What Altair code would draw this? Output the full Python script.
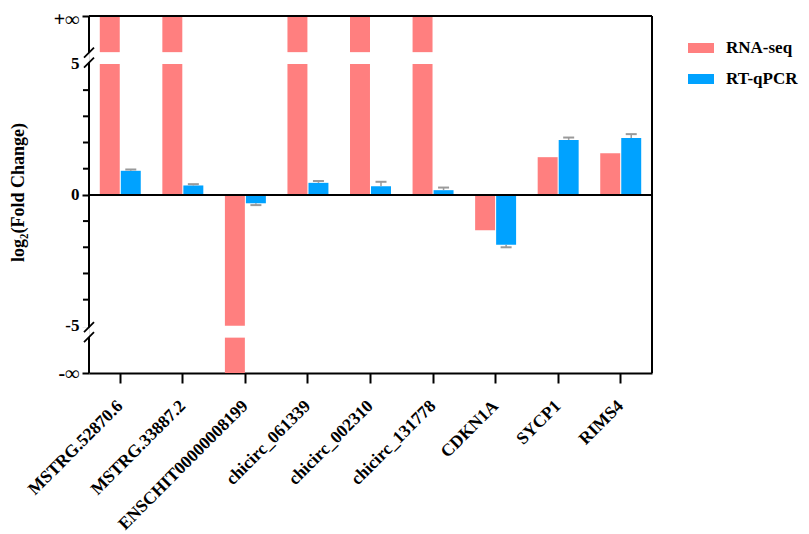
import math
import altair as alt
import pandas as pd

# ---------------- data ----------------
genes = ["MSTRG.52870.6", "MSTRG.33887.2", "ENSCHIT00000008199", "chicirc_061339",
         "chicirc_002310", "chicirc_131778", "CDKN1A", "SYCP1", "RIMS4"]
INF = math.inf
rna_seq = [INF, INF, -INF, INF, INF, INF, -1.35, 1.44, 1.59]
rt_qpcr = [0.92, 0.36, -0.32, 0.46, 0.33, 0.18, -1.90, 2.10, 2.17]
rt_qpcr_err = [0.05, 0.05, 0.07, 0.07, 0.17, 0.10, 0.10, 0.09, 0.15]
series_names = ["RNA-seq", "RT-qPCR"]
series_colors = ["#FF7F7F", "#00A2FF"]

# broken-axis layout (axis units)
Y_TOP = 6.83      # where +inf is drawn
Y_BOT = -6.80     # where -inf is drawn
BREAK_LO = 5.0    # bar segment ends
BREAK_HI = 5.45   # bar segment resumes
AX_GAP_LO = 5.05
AX_GAP_HI = 5.43
label_values = [Y_BOT, -5, 0, 5, Y_TOP]
minor_ticks = [-4, -3, -2, -1, 1, 2, 3, 4]

FONT = "Liberation Serif"
W, H = 563, 357

# ---------------- tables ----------------
bar_rows = []
for g, v in zip(genes, rna_seq):
    if v == INF:
        bar_rows += [(g, "RNA-seq", 0, BREAK_LO), (g, "RNA-seq", BREAK_HI, Y_TOP)]
    elif v == -INF:
        bar_rows += [(g, "RNA-seq", 0, -BREAK_LO), (g, "RNA-seq", -BREAK_HI, Y_BOT)]
    else:
        bar_rows.append((g, "RNA-seq", 0, v))
for g, v in zip(genes, rt_qpcr):
    bar_rows.append((g, "RT-qPCR", 0, v))
bars_df = pd.DataFrame(bar_rows, columns=["gene", "series", "y0", "y1"])

err_df = pd.DataFrame({
    "gene": genes,
    "series": "RT-qPCR",
    "y0": rt_qpcr,
    "y1": [v + (e if v >= 0 else -e) for v, e in zip(rt_qpcr, rt_qpcr_err)],
})

axis_seg_df = pd.DataFrame({"y0": [Y_BOT, -AX_GAP_LO, AX_GAP_HI],
                            "y1": [-AX_GAP_HI, AX_GAP_LO, Y_TOP]})
slash_centers = [-AX_GAP_HI, -AX_GAP_LO, AX_GAP_LO, AX_GAP_HI]
slash_df = pd.DataFrame({"y0": [c - 0.19 for c in slash_centers],
                         "y1": [c + 0.19 for c in slash_centers]})
hline_df = pd.DataFrame({"y1": [0, Y_TOP]})
mask_df = pd.DataFrame({"y1": [-5, 5]})
minor_df = pd.DataFrame({"y1": minor_ticks})

# ---------------- encodings ----------------
x_axis = alt.Axis(title=None, labelAngle=315, labelAlign="right", labelLimit=400,
                  labelBaseline="middle", labelFont=FONT, labelFontSize=17.5,
                  labelFontWeight="bold", labelColor="black", labelPadding=20,
                  tickSize=10, tickWidth=2, tickColor="black",
                  domainColor="black", domainWidth=2)
x_scale = alt.Scale(paddingInner=0.345, paddingOuter=0.1725)
xoff_scale = alt.Scale(paddingInner=0.05)
y_scale = alt.Scale(domain=[Y_BOT, Y_TOP], nice=False, zero=False)

label_expr = ("datum.value > 6 ? '+∞' : datum.value < -6 ? '-∞' : "
              "datum.value == 5 ? '5' : datum.value == -5 ? '-5' : "
              "datum.value == 0 ? '0' : ''")

y_axis = alt.Axis(values=label_values, labelExpr=label_expr, domain=False, grid=False,
                  tickColor="black", tickWidth=2, tickSize=7,
                  labelFont=FONT,
                  labelFontSize={"condition": {"test": "abs(datum.value) > 6", "value": 20},
                                 "value": 17},
                  labelOffset={"condition": {"test": "datum.value > 6", "value": 3},
                               "value": 0},
                  labelFontWeight="bold", labelColor="black", labelPadding=3,
                  title="log₂(Fold Change)", titleFont=FONT, titleFontSize=18,
                  titleFontWeight="bold", titleColor="black", titleAngle=270,
                  titleX=-80, titleY=176, titleBaseline="top", titleAlign="center")


def X():
    return alt.X("gene:N", sort=genes, scale=x_scale, axis=x_axis)


def XO():
    return alt.XOffset("series:N", sort=series_names, scale=xoff_scale)


def Y(field):
    return alt.Y(field, scale=y_scale, axis=y_axis)


bars = alt.Chart(bars_df).mark_bar().encode(
    x=X(), xOffset=XO(), y=Y("y1:Q"), y2="y0:Q",
    color=alt.Color("series:N", sort=series_names,
                    scale=alt.Scale(domain=series_names, range=series_colors),
                    legend=alt.Legend(title=None, orient="none", legendX=599, legendY=19,
                                      symbolType="M-1,-0.385L1,-0.385L1,0.385L-1,0.385Z",
                                      symbolSize=676, symbolStrokeWidth=0, symbolOpacity=1,
                                      labelFont=FONT, labelFontSize=17, labelFontWeight="bold",
                                      labelColor="black", labelOffset=12, rowPadding=10,
                                      padding=0)),
)

err_line = alt.Chart(err_df).mark_rule(color="#9A9A9A", strokeWidth=1.5).encode(
    x=X(), xOffset=XO(), y=Y("y0:Q"), y2="y1:Q")
err_cap = alt.Chart(err_df).mark_tick(color="#9A9A9A", size=11, thickness=2, opacity=1).encode(
    x=X(), xOffset=XO(), y=Y("y1:Q"))

hlines = alt.Chart(hline_df).mark_rule(color="black", strokeWidth=2).encode(y=Y("y1:Q"))
right_line = alt.Chart(hline_df).mark_rule(color="black", strokeWidth=2).encode(
    x=alt.value(W), y=alt.value(0), y2=alt.value(H))
tick_mask = alt.Chart(mask_df).mark_rule(color="white", strokeWidth=4).encode(
    x=alt.value(-9), x2=alt.value(-1), y=Y("y1:Q"))
minor = alt.Chart(minor_df).mark_rule(color="black", strokeWidth=2).encode(
    x=alt.value(-6), x2=alt.value(0), y=Y("y1:Q"))
axis_line = alt.Chart(axis_seg_df).mark_rule(color="black", strokeWidth=2).encode(
    x=alt.value(0), y=Y("y0:Q"), y2="y1:Q")
slashes = alt.Chart(slash_df).mark_rule(color="black", strokeWidth=1.8).encode(
    x=alt.value(-5), x2=alt.value(5), y=Y("y0:Q"), y2="y1:Q")

chart = alt.layer(bars, err_line, err_cap, hlines, right_line, tick_mask, minor, axis_line,
                  slashes).properties(
    width=W, height=H,
    autosize=alt.AutoSizeParams(type="none"),
    padding={"left": 81, "top": 8, "right": 149, "bottom": 160},
).configure_view(stroke=None).configure(background="white")

chart.save("out.html", embed_options={"renderer": "svg", "actions": False})
